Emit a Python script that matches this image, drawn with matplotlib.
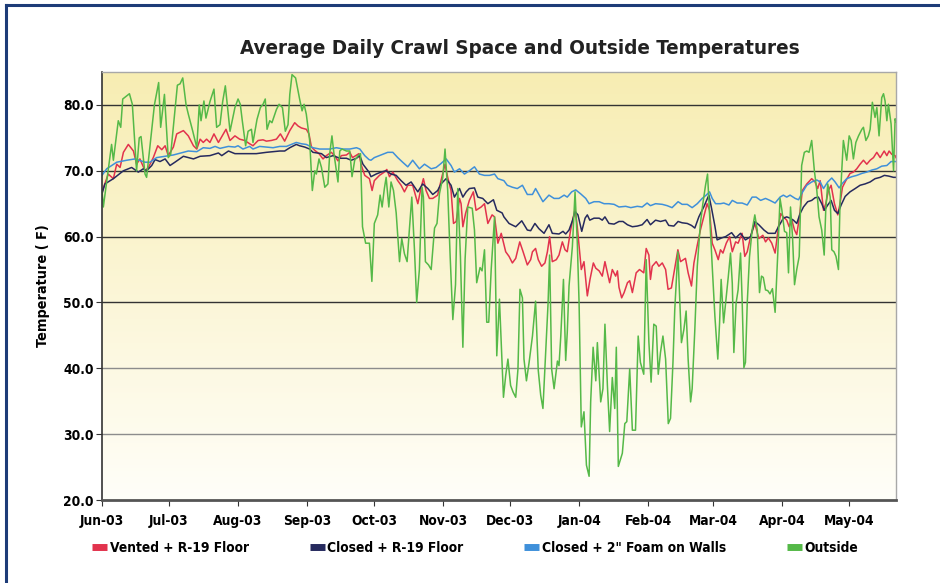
import numpy as np
import matplotlib
matplotlib.use("Agg")
import matplotlib.pyplot as plt
import matplotlib.dates as mdates
from matplotlib import font_manager
from matplotlib.lines import Line2D
from datetime import datetime

# Días contados desde el 1 de junio de 2003, temperaturas en F
vented_day = [0, 2.8, 5.1, 6.6, 8.1, 9.6, 11.8, 14.1, 15.5, 17.0, 19.3, 20.8, 23.0, 25.0, 26.8, 28.3, 29.7, 32.0,
              33.5, 36.5, 38.7, 41.0, 42.5, 44.0, 45.4, 46.9, 48.4, 50.2, 52.2, 55.6, 57.4, 59.6, 61.7, 64.0, 66.2,
              67.7, 70.0, 72.2, 73.7, 75.9, 78.2, 80.0, 81.9, 84.2, 86.4, 87.9, 89.4, 91.6, 92.8, 93.9, 95.4, 97.3,
              99.1, 100.6, 102.8, 104.3, 105.8, 107.3, 109.6, 111.1, 112.3, 113.3, 115.2, 116.3, 117.8, 119.9, 121.1,
              122.1, 124.4, 126.6, 127.7, 128.9, 130.4, 132.6, 134.1, 135.6, 137.1, 139.3, 141.6, 143.1, 144.1, 145.3,
              146.8, 148.3, 150.5, 152.0, 153.8, 155.0, 156.5, 157.6, 158.8, 160.3, 161.0, 161.8, 163.0, 164.7, 166.5,
              167.7, 170.0, 171.5, 173.0, 174.9, 176.0, 177.5, 179.0, 181.0, 182.5, 184.0, 185.5, 187.3, 188.8, 190.7,
              192.2, 193.0, 194.4, 195.6, 197.1, 198.6, 199.7, 200.7, 201.9, 203.7, 204.9, 206.4, 207.6, 208.6, 210.1,
              212.1, 213.1, 214.9, 216.1, 217.6, 218.8, 220.3, 221.4, 222.9, 224.3, 225.5, 226.6, 227.6, 228.8, 230.3,
              231.1, 231.8, 233.0, 234.1, 235.6, 236.6, 237.8, 239.5, 241.0, 242.9, 244.0, 245.2, 245.9, 246.7, 248.5,
              249.7, 251.2, 252.7, 253.8, 255.3, 256.8, 258.2, 259.4, 261.6, 262.8, 264.3, 265.4, 266.9, 268.3, 269.8,
              271.3, 272.4, 273.6, 274.8, 276.3, 277.3, 278.4, 279.9, 281.4, 282.6, 284.1, 285.2, 287.0, 288.2, 289.3,
              290.8, 292.7, 294.5, 296.3, 297.5, 298.8, 300.3, 301.8, 303.3, 304.3, 305.5, 307.0, 308.1, 309.3, 310.5,
              311.5, 312.7, 314.0, 316.0, 318.2, 319.7, 320.9, 322.0, 323.5, 324.5, 325.7, 326.9, 328.4, 329.9, 330.9,
              332.0, 333.5, 335.4, 336.9, 338.4, 339.9, 341.4, 342.9, 344.4, 345.9, 347.4, 348.9, 350.7, 351.9, 352.9,
              354.1, 355.6, 356.0]
vented_temp = [66.8, 69.5, 68.8, 71, 70.5, 72.8, 74, 73, 71, 71.8, 70, 70.5, 72, 73.8, 73.2, 73.8, 72.3, 73.6,
               75.6, 76.1, 75.3, 73.8, 73.3, 74.8, 74.3, 74.8, 74.3, 75.6, 74.3, 76.3, 74.6, 75.3, 74.8, 74.6, 74.1,
               73.8, 74.6, 74.7, 74.5, 74.6, 74.8, 75.6, 74.5, 76.1, 77.3, 76.8, 76.5, 76.3, 75.6, 73.6, 73.1, 72.6,
               71.8, 72.3, 72.8, 72.3, 71.5, 72.3, 72.4, 72.8, 72, 72.2, 72.6, 70.8, 69.3, 68.8, 67,
               68.5, 69.3, 69.8, 70.2, 69.1, 69.8, 68.5, 67.8, 66.8, 67.8, 67.8, 65, 67.5, 68.8, 67,
               65.8, 65.8, 66.3, 68.5, 71, 69, 67, 62, 62.3, 65.8, 65, 61.5, 63.5, 65.5, 66.8,
               64, 64.5, 65, 62, 63.3, 63, 59, 60.5, 57.7, 57, 56, 56.7, 59.2, 57.7, 55.7,
               56.5, 57.7, 58.2, 56.5, 55.5, 56, 57.7, 60, 56.2, 56.5, 57.2, 59.2, 58, 57.7, 61,
               64.2, 61.5, 55, 56.2, 51, 53.5, 56, 55.2, 54.8, 54, 56.2, 54.5, 53, 55, 54,
               54.8, 52.3, 50.7, 51.5, 53, 53.3, 51.5, 54.5, 55, 54.5, 58.2, 57.2, 53.5, 55.5, 56.2,
               55.5, 56, 55, 52, 52.2, 55.2, 58, 56.2, 56.7, 54.5, 52.5, 56, 58.7, 61, 63,
               65, 64, 59, 58, 56.5, 58, 57.5, 59, 60, 57.7, 59.2, 59, 60.5, 57, 57.7,
               60, 62, 59.7, 60.2, 59.2, 59.8, 59, 57.5, 61.5, 63.5, 63, 62.5, 61.5, 62.5, 61,
               60.3, 63, 67, 68, 68.8, 68.3, 67.3, 68.5, 64, 65, 67, 67.8, 65, 63.3, 65,
               67.5, 68.5, 69.6, 69.8, 70.3, 71, 71.6, 71, 71.6, 72, 72.8, 72, 73, 72.3, 73,
               72.5, 72.3, 72]

closed_day = [0, 1.3, 5.1, 9.6, 13.3, 16.3, 18.5, 20.0, 22.3, 23.8, 26.0, 28.3, 30.5, 32.7, 36.5, 41.0, 44.0, 48.4,
              52.2, 53.7, 56.7, 59.6, 63.2, 69.2, 73.7, 79.7, 81.9, 84.2, 87.1, 88.6, 90.9, 93.1, 94.6, 98.4, 100.6,
              103.6, 106.6, 109.6, 111.8, 114.1, 115.6, 117.0, 119.7, 120.6, 122.9, 125.1, 127.4, 129.6, 131.9, 134.1,
              136.3, 138.6, 141.6, 143.8, 146.1, 148.3, 150.5, 152.0, 154.3, 156.5, 158.0, 160.3, 161.8, 163.3, 164.7,
              167.0, 168.5, 170.7, 173.0, 175.5, 177.0, 179.4, 180.2, 182.5, 185.5, 188.2, 190.7, 192.2, 194.1, 195.9,
              198.2, 200.4, 201.9, 204.9, 206.7, 207.9, 209.4, 210.9, 212.1, 213.4, 215.1, 216.6, 217.6, 218.7, 220.6,
              222.9, 224.3, 225.5, 227.3, 229.6, 231.8, 233.6, 235.6, 237.8, 240.0, 242.2, 244.4, 245.9, 248.2, 250.4,
              252.7, 254.1, 256.4, 258.3, 260.1, 262.4, 264.3, 265.8, 267.6, 269.8, 272.1, 273.3, 274.8, 275.8, 277.8,
              279.6, 282.3, 284.1, 286.3, 288.5, 290.8, 292.7, 294.5, 296.8, 298.7, 301.8, 303.3, 305.5, 307.0, 308.5,
              310.0, 311.5, 313.0, 314.5, 316.4, 318.2, 319.7, 321.2, 322.7, 323.9, 325.4, 326.9, 328.4, 329.9, 331.4,
              333.2, 335.4, 337.7, 339.9, 342.1, 344.4, 346.6, 348.9, 350.8, 352.6, 354.9, 356.0]
closed_temp = [66.5, 68, 68.8, 70, 70.5, 69.8, 70.3, 70, 70.8, 71.7, 71.4, 71.8, 70.8, 71.3, 72.2, 71.8, 72.2, 72.3,
               72.7, 72.3, 73, 72.6, 72.6, 72.6, 72.8, 73, 73, 73.5, 74, 73.8, 73.6, 73.3, 72.8, 72.6, 72,
               72.3, 71.9, 71.9, 71.6, 71.9, 72.3, 71, 69.8, 69.1, 69.5, 69.8, 70, 69.5, 69.3, 68.5,
               67.8, 68.3, 66.8, 68, 67.3, 66.4, 67, 68, 68.8, 67.8, 66, 67.3, 66, 66.8, 67.3,
               67.4, 66, 65.8, 65, 65.6, 64, 63.6, 63, 62, 61.5, 62.4, 61, 60.9, 62, 61.2,
               60.5, 61.8, 60.5, 60.4, 60.8, 60.4, 61, 62.4, 63.8, 63.3, 60.8, 62.8, 63.3, 62.5, 62.8,
               62.8, 62.5, 63, 62, 61.9, 62.3, 62.3, 61.8, 61.5, 61.6, 61.8, 62.6, 61.8, 62.5, 62.3,
               62.5, 61.7, 61.6, 62.3, 62.1, 62, 61.7, 61.3, 63, 64.5, 66.3, 64.3, 61.6, 59.5, 59.8,
               60, 60.6, 59.8, 60.5, 59.5, 60, 62.3, 61.8, 61, 60.5, 60.5, 61.5, 62.8, 63, 62.8,
               62.5, 62, 63.5, 64.5, 65.3, 65.5, 65.9, 66, 65, 64, 64.8, 65.5, 64, 63.5, 64.8,
               66.1, 66.8, 67.3, 67.8, 68, 68.3, 68.8, 69, 69.3, 69.2, 69, 69]

foam_day = [0, 2.1, 6.6, 11.1, 14.8, 19.3, 21.5, 24.5, 28.3, 32.0, 36.5, 38.7, 42.5, 45.4, 48.4, 50.7, 52.9, 56.7,
            59.6, 61.0, 63.2, 66.2, 67.7, 70.7, 73.7, 76.7, 79.7, 82.7, 84.9, 87.1, 89.4, 91.6, 94.6, 97.6, 102.1,
            105.1, 108.1, 111.1, 114.1, 115.6, 117.8, 119.7, 120.6, 122.1, 124.4, 126.6, 128.1, 130.4, 132.6, 134.8,
            137.1, 139.3, 142.3, 144.6, 147.6, 149.8, 152.0, 154.3, 156.5, 158.0, 160.3, 162.5, 164.7, 167.0, 169.2,
            171.5, 173.7, 176.0, 177.5, 180.2, 181.7, 184.0, 186.2, 188.5, 190.7, 193.0, 194.4, 196.2, 197.7, 200.4,
            202.7, 204.9, 207.2, 208.6, 210.6, 212.4, 214.6, 216.9, 218.4, 220.6, 222.9, 225.1, 227.3, 229.6, 231.8,
            234.8, 237.1, 240.0, 242.2, 244.4, 245.9, 248.2, 251.2, 253.4, 255.6, 258.3, 260.1, 262.4, 264.6, 266.9,
            269.1, 270.9, 272.4, 273.6, 275.1, 277.3, 278.8, 281.1, 282.6, 284.8, 287.0, 289.3, 291.5, 293.3, 295.3,
            297.5, 299.5, 301.8, 304.0, 305.5, 307.0, 308.5, 310.8, 312.3, 314.0, 316.0, 318.2, 320.5, 322.0, 323.5,
            325.4, 327.2, 328.7, 330.5, 332.0, 333.9, 336.2, 338.4, 340.7, 342.9, 345.1, 347.4, 349.6, 351.9, 353.8,
            356.0]
foam_temp = [69.3, 70.3, 71.3, 71.6, 71.8, 71.3, 71.3, 72, 72.2, 72.4, 72.8, 73, 72.9, 73.5, 73.4, 73.7, 73.4, 73.7,
             73.6, 73.8, 73.3, 73.7, 73.3, 73.7, 73.6, 73.5, 73.7, 73.7, 74, 74.3, 74.1, 74, 73.5, 73.3, 73.3,
             73.5, 73.3, 73.3, 73.5, 73.3, 72.3, 71.7, 71.6, 72, 72.3, 72.6, 72.8, 72.8, 72, 71.3,
             70.6, 71.6, 70.3, 71, 70.3, 70.5, 71.1, 71.8, 70.8, 69.8, 70.3, 69.5, 70, 70.6, 69.5,
             69.3, 69.3, 69.5, 68.8, 68.5, 67.8, 67.5, 67.3, 67.8, 66.4, 66.4, 67.3, 66.2, 65.3, 66.3,
             65.8, 65.8, 66.3, 66, 66.8, 67.1, 66.5, 65.8, 65, 65.3, 65.3, 65, 65, 64.9, 64.5,
             64.6, 64.4, 64.6, 64.5, 65.1, 64.7, 65, 64.9, 64.7, 64.4, 65.3, 64.9, 64.9, 64.4, 65,
             65.8, 66.3, 66.8, 65.8, 65, 65, 65.1, 64.8, 65.5, 65.1, 65.1, 64.8, 66, 66, 65.5,
             65.8, 65.5, 65.1, 66, 66.3, 66, 66.3, 65.8, 65.6, 66.7, 67.8, 68.3, 68.6, 68.3, 67.3,
             68.3, 68.9, 68.3, 67.4, 68.1, 68.8, 69.1, 69.3, 69.6, 69.8, 70.1, 70.3, 70.7, 70.8, 71.4,
             71.4]

outside_day = [0, 0.6, 4.3, 5.1, 7.3, 8.4, 9.3, 12.3, 13.6, 15.5, 16.7, 17.5, 19.3, 20.0, 23.5, 25.4, 26.3, 28.0,
               29.7, 30.8, 33.8, 35.0, 36.2, 37.7, 38.7, 40.7, 42.5, 43.6, 44.4, 45.7, 46.6, 48.4, 50.2, 51.4, 52.9,
               54.1, 55.3, 57.4, 59.6, 61.0, 62.0, 62.9, 64.4, 65.5, 67.0, 67.7, 69.5, 71.0, 72.2, 73.2, 74.0, 75.2,
               76.2, 78.2, 79.4, 80.9, 82.2, 83.4, 84.2, 85.2, 86.8, 88.6, 89.7, 90.6, 91.6, 93.1, 94.3, 95.4, 96.1,
               97.3, 98.4, 99.9, 101.3, 102.1, 103.1, 104.0, 105.1, 105.8, 106.6, 107.6, 109.6, 111.1, 112.1, 113.3,
               114.8, 115.9, 116.8, 118.2, 119.9, 121.0, 122.1, 123.6, 124.7, 125.6, 126.6, 127.4, 128.6, 129.6,
               130.7, 131.9, 133.4, 134.4, 135.6, 136.8, 137.8, 138.9, 140.1, 141.1, 142.3, 143.5, 144.1, 145.0,
               146.4, 147.6, 149.1, 150.2, 151.3, 152.8, 153.8, 155.0, 156.1, 157.3, 158.5, 159.5, 160.7, 161.8,
               162.8, 164.0, 166.0, 167.0, 168.0, 169.5, 170.4, 171.5, 172.5, 173.4, 174.5, 176.0, 177.0, 178.2,
               180.0, 181.0, 182.0, 183.2, 184.3, 185.5, 186.5, 187.4, 188.5, 189.2, 190.3, 191.5, 193.0, 194.4,
               195.6, 196.7, 197.7, 198.9, 200.0, 200.7, 201.6, 202.7, 204.2, 204.9, 205.7, 206.9, 207.9, 208.6,
               209.4, 210.9, 212.1, 213.1, 213.9, 214.9, 216.1, 217.2, 218.4, 219.1, 220.2, 221.4, 222.1, 223.6,
               224.6, 225.5, 226.6, 227.6, 228.8, 229.9, 230.6, 231.5, 233.3, 234.4, 235.3, 236.6, 237.8, 239.2,
               240.4, 241.4, 242.9, 244.0, 245.2, 246.2, 247.4, 248.5, 249.4, 250.4, 251.5, 252.7, 253.9, 254.9,
               256.0, 256.8, 258.2, 258.9, 259.8, 260.9, 261.9, 262.8, 263.9, 264.6, 265.8, 266.9, 268.3, 269.4,
               270.6, 271.5, 272.4, 273.6, 274.8, 276.1, 276.9, 277.6, 278.7, 279.9, 280.8, 281.8, 282.6, 283.3,
               284.3, 285.2, 286.3, 287.0, 287.8, 288.5, 289.3, 290.3, 291.5, 292.7, 293.8, 294.8, 295.7, 296.5,
               297.5, 298.5, 299.5, 300.6, 301.8, 303.0, 304.0, 304.8, 306.0, 307.0, 307.8, 308.7, 309.6, 310.5,
               311.5, 312.6, 313.7, 314.9, 316.0, 317.0, 318.2, 319.4, 320.5, 321.5, 322.7, 323.8, 324.5, 325.4,
               326.5, 327.2, 328.2, 329.1, 330.2, 330.9, 331.7, 332.4, 333.2, 333.9, 335.0, 335.9, 336.9, 338.0,
               339.2, 340.7, 341.4, 342.5, 343.6, 344.4, 345.4, 346.6, 347.4, 348.4, 349.6, 350.4, 351.1, 351.9,
               352.6, 353.8, 354.9, 355.6, 356.0]
outside_temp = [67, 64.5, 74, 71.6, 77.6, 76.6, 80.9, 81.7, 80.1, 70, 75, 75.2, 69.5, 69, 80, 83.4, 76.6, 81.6,
                72, 72.5, 83, 83.2, 84.1, 80, 78.6, 76, 73.5, 80, 77.6, 80.6, 78, 80.5, 82.4, 76.6, 77,
                80.5, 82.9, 76, 79.6, 80.9, 80.1, 77.6, 73.8, 76, 76.3, 74.3, 77.8, 79.6, 80.1, 80.9, 76.3, 77.6,
                77.3, 79.3, 80.1, 79.6, 76, 77, 81.6, 84.6, 84.1, 80.9, 79.1, 80.1, 78.6, 74.6, 67, 70, 69.5,
                71.8, 70.5, 67.5, 68, 72.6, 75.3, 72.6, 70, 68.3, 73, 73.3, 73, 73, 69.1, 71.6,
                72.3, 72.6, 61.5, 59, 59, 53.2, 62, 63.3, 66.3, 64.5, 67.3, 69, 64.5, 68.3,
                67, 63.6, 56.2, 59.7, 57.4, 56.2, 61, 66, 58, 50, 55, 67.5, 66, 56.2,
                55.7, 55, 61.3, 62, 66.5, 69, 73.3, 67, 57, 47.4, 52.7, 67.3, 57, 43.2,
                56.6, 64.5, 64.3, 61, 53, 55.3, 54.8, 58, 47, 47, 55, 63, 41.9, 50.5,
                35.6, 38.9, 41.4, 37.4, 36.4, 35.6, 39.9, 52, 50.7, 41.4, 38.1, 40.9, 44.9, 50.2,
                39.7, 35.9, 33.9, 42.4, 49.9, 57.2, 39.9, 36.9, 41.1, 40.4, 44.9, 53.5, 41.2, 45.4,
                52.5, 58.5, 66.8, 59.1, 50, 31.1, 33.4, 25.3, 23.6, 34.9, 43.2, 38.1, 43.9, 34.9,
                36.9, 46.7, 37.4, 30.4, 38.6, 33.9, 43.2, 25.1, 27.1, 31.6, 31.9, 39.9, 30.6, 30.6,
                44.9, 40.9, 39.1, 56.5, 44, 37.9, 46.7, 46.4, 39.1, 42.4, 44.9, 41.4, 31.6, 32.4,
                40.9, 48.9, 57.7, 51.5, 43.9, 45.9, 48.7, 41.4, 34.9, 36.9, 45.9, 55.5, 62, 65,
                67.8, 69.5, 63.5, 55.5, 47.9, 41.4, 46.9, 53.5, 46.9, 50.9, 53.9, 57.5, 52.9, 42.4,
                49.9, 51.9, 57.5, 50.5, 40.1, 40.9, 49.9, 56.9, 61, 63.3, 61, 51.5, 54, 53.8,
                51.9, 51.8, 51.3, 52.1, 48.5, 57.5, 65.8, 64.1, 60.8, 60.6, 54.5, 64.5, 60, 52.7,
                55, 57, 70.8, 72.8, 73, 72.8, 74.6, 70, 67, 63, 61, 57.2, 64, 68,
                66, 58, 57.7, 57, 55, 65, 70, 74.6, 73, 71.6, 75.3, 74.6, 71.8, 74.3,
                75.3, 76.3, 76.6, 74.6, 75.3, 76.3, 80.4, 78.1, 79.6, 75.3, 81.1, 81.7, 80.6, 77.6,
                80.1, 77.1, 70, 77.9, 77.4]

series_names = ["Vented + R-19 Floor", "Closed + R-19 Floor", 'Closed + 2" Foam on Walls', "Outside"]
series_colors = ["#e2334d", "#262a5e", "#3f90da", "#55b948"]
y_ticks = [20, 30, 40, 50, 60, 70, 80]

# Busca una fuente estrecha parecida a la del original
fonts = font_manager.fontManager.ttflist
if any(f.name == "Liberation Sans Narrow" for f in fonts):
    family, stretch, k = "Liberation Sans Narrow", "normal", 1.0
elif any(f.name == "DejaVu Sans" and "condensed" in str(f.stretch) for f in fonts):
    family, stretch, k = "DejaVu Sans", "condensed", 0.9
else:
    family, stretch, k = "Roboto", "normal", 0.86
plt.rcParams["font.family"] = [family, "DejaVu Sans"]
plt.rcParams["font.stretch"] = stretch
plt.rcParams["font.weight"] = "bold"

start = mdates.date2num(datetime(2003, 6, 1))
x_end = start + 356

fig = plt.figure(figsize=(9.4, 5.83), dpi=100)
ax = fig.add_axes([102 / 940, 1 - 500 / 583, 794 / 940, 428 / 583])

# Fondo degradado amarillo -> blanco
grad = np.linspace(0, 1, 256).reshape(-1, 1)
top = np.array([0.97, 0.93, 0.70])
bottom = np.array([1.0, 0.997, 0.975])
img = top + (bottom - top) * grad[:, :, None]
ax.imshow(img, extent=(start, x_end, 20, 85), aspect="auto", origin="upper", zorder=0)

for t in y_ticks[1:]:
    gc = "#8c8c8c" if t in (30, 40) else "#333333"
    ax.axhline(t, color=gc, lw=1.0, zorder=1)

all_days = [vented_day, closed_day, foam_day, outside_day]
all_temps = [vented_temp, closed_temp, foam_temp, outside_temp]
for d, t, c in zip(all_days, all_temps, series_colors):
    ax.plot(start + np.array(d), t, color=c, lw=1.1, zorder=2)

ax.set_xlim(start, x_end)
ax.set_ylim(20, 85)
ax.set_yticks(y_ticks)
ax.set_yticklabels(["%.1f" % v for v in y_ticks])
ax.xaxis.set_major_locator(mdates.MonthLocator())
ax.xaxis.set_major_formatter(mdates.DateFormatter("%b-%y"))
ax.tick_params(axis="both", labelsize=11 * k, direction="out", length=4, color="#333333", pad=2)
ax.tick_params(axis="x", pad=6)

for side in ["top", "right"]:
    ax.spines[side].set_color("#a8a8a8")
    ax.spines[side].set_linewidth(1.0)
ax.spines["left"].set_color("#333333")
ax.spines["left"].set_linewidth(1.2)
ax.spines["bottom"].set_color("#555555")
ax.spines["bottom"].set_linewidth(2.0)

ax.set_ylabel("Temperature ( F)", fontsize=11.5 * k, fontweight="bold")
ax.yaxis.set_label_coords(-0.066, 0.5)

fig.text(520 / 940, 1 - 48 / 583, "Average Daily Crawl Space and Outside Temperatures",
         ha="center", va="center", fontsize=16.4 * k, fontweight="bold", color="#222222")

handles = [Line2D([0], [0], color=c, lw=5, solid_capstyle="butt") for c in series_colors]
fig.legend(handles, series_names, loc="center left", bbox_to_anchor=(92 / 940, 1 - 548 / 583),
           ncol=4, frameon=False, fontsize=11 * k, handlelength=1.1, handletextpad=0.2,
           columnspacing=4.4, borderpad=0, borderaxespad=0)

# Marco azul exterior
fig.add_artist(Line2D([6 / 940, 6 / 940], [0, 1 - 5 / 583], color="#1d3c78", lw=2.2))
fig.add_artist(Line2D([6 / 940, 1], [1 - 5 / 583, 1 - 5 / 583], color="#1d3c78", lw=2.2))

fig.savefig("out.png", dpi=100)
